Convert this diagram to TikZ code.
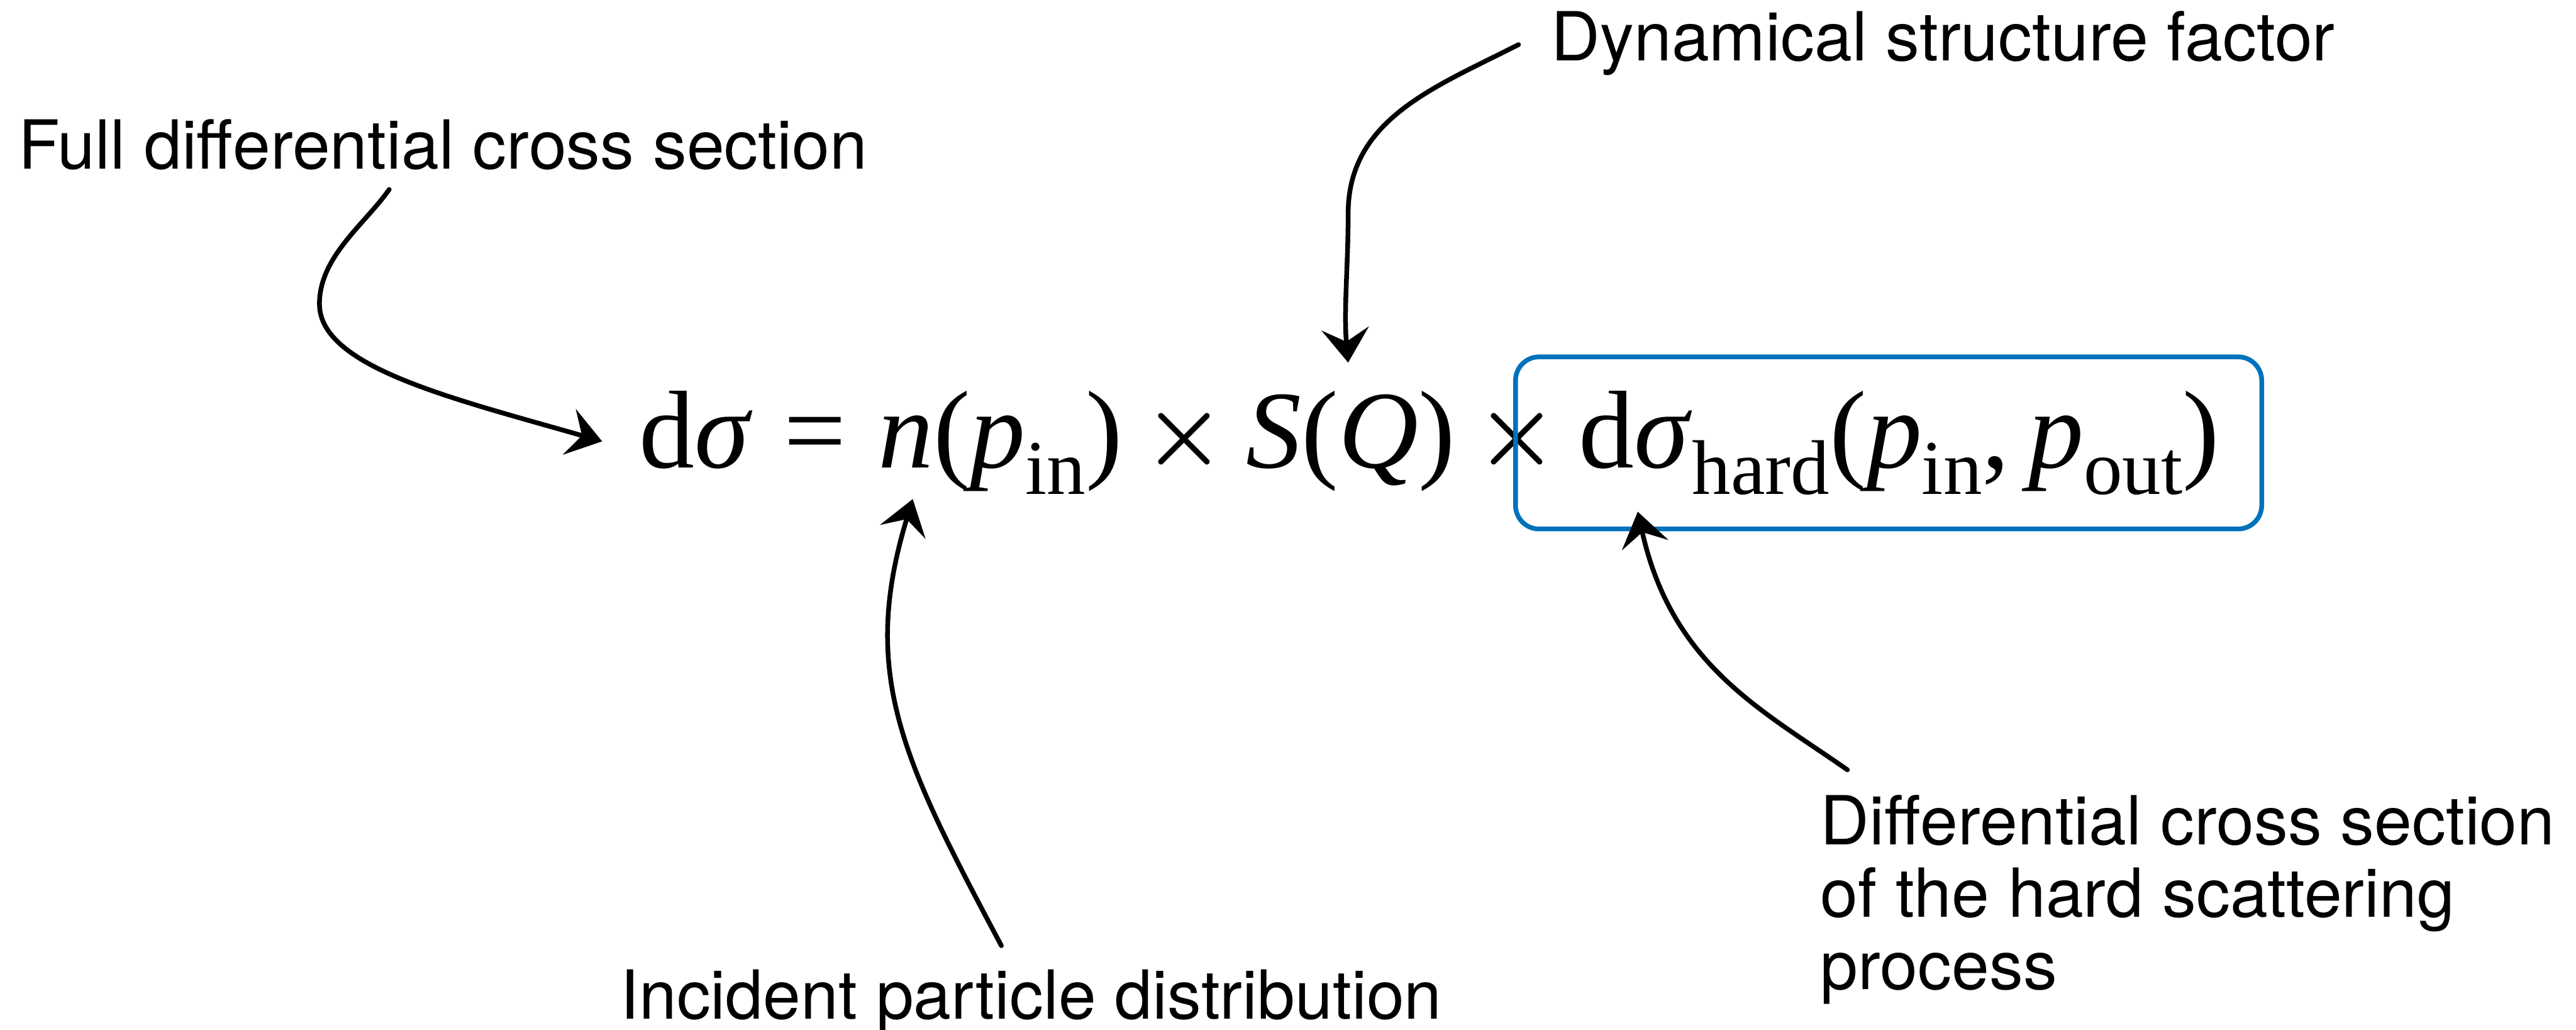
\RequirePackage{fix-cm}
\documentclass[tikz,border=0pt]{standalone}
\usepackage{fontspec}
\newfontfamily\notefont{TeX Gyre Heros}
\newfontfamily\eqfont{Liberation Serif}
\usepackage{tikz}
\usetikzlibrary{arrows.meta, positioning}
\definecolor{hardblue}{RGB}{0,114,187}
\newcommand{\lowtxt}[1]{\raisebox{-0.24em}{\fontsize{42pt}{42pt}\selectfont #1}}
\newcommand{\timessign}{\kern0.18em\raisebox{2.8pt}{\fontsize{50pt}{50pt}\selectfont\boldmath$\times$}\kern0.18em}

\begin{document}
\begin{tikzpicture}[
    note/.style={inner sep=0pt, font=\notefont\fontsize{36.7pt}{39.1pt}\selectfont},
    eqpart/.style={inner sep=0pt, font=\eqfont\fontsize{60pt}{72pt}\selectfont},
    pointer/.style={line width=0.09cm, line cap=round, -{Stealth[length=6.5mm, width=9mm, inset=2.5mm]}},
    hardbox/.style={draw=hardblue, line width=0.09cm, rounded corners=0.45cm}
]
\useasboundingbox (0,0) rectangle (49.11,-19.62);

% the formula, piece by piece
\node[eqpart, anchor=base west] (dsig) at (12.18,-8.91) {d\textit{σ}};
\node[eqpart, base right=0pt of dsig] (eqs) {\kern0.278em=\kern0.278em};
\node[eqpart, base right=0pt of eqs] (npin) {\textit{n}(\textit{p}\lowtxt{in})};
\node[eqpart, base right=0pt of npin] (timesa) {\timessign};
\node[eqpart, base right=0pt of timesa] (sq) {\textit{S}(\textit{Q})};
\node[eqpart, base right=0pt of sq] (timesb) {\timessign};
\node[eqpart, base right=0pt of timesb] (hard) {d\textit{σ}\lowtxt{hard}(\textit{p}\lowtxt{in},\kern0.167em\textit{p}\lowtxt{out})};
\draw[hardbox] ([shift={(-1.2,-1.17)}]hard.base west) rectangle ([shift={(0.8,2.11)}]hard.base east);

% annotations
\node[note, anchor=base west] (full) at (0.35,-3.22) {Full differential cross section};
\node[note, anchor=base west] (dyn) at (29.57,-1.16) {Dynamical structure factor};
\node[note, anchor=base west] (inc) at (11.82,-19.42) {Incident particle distribution};
\node[note, align=left, anchor=north west] (diff) at (34.7,-15.15) {Differential cross section\\of the hard scattering\\process};

\coordinate (sqtip) at ([shift={(1.95,2.0)}]sq.base west);
\draw[pointer] ([shift={(7.07,-0.39)}]full.base west) .. controls +(235:0.8) and +(90:0.9) .. (6.09,-5.79)
    .. controls +(-90:1.2) and +(164:3) .. ([shift={(-0.7,0.5)}]dsig.base west);
\draw[pointer] ([shift={(-0.62,0.31)}]dyn.base west) .. controls +(207:1.8) and +(90:1.8) .. ([yshift=2.84cm]sqtip)
    .. controls +(-90:1.0) and +(95:1.0) .. (sqtip);
\draw[pointer] ([shift={(7.27,1.40)}]inc.base west) .. controls +(118:4) and +(253:3.5) .. ([shift={(0.67,-0.6)}]npin.base west);
\draw[pointer] ([shift={(0.52,0.48)}]diff.north west) .. controls +(145:2) and +(282.5:3) .. ([shift={(1.13,-0.84)}]hard.base west);
\end{tikzpicture}
\end{document}
